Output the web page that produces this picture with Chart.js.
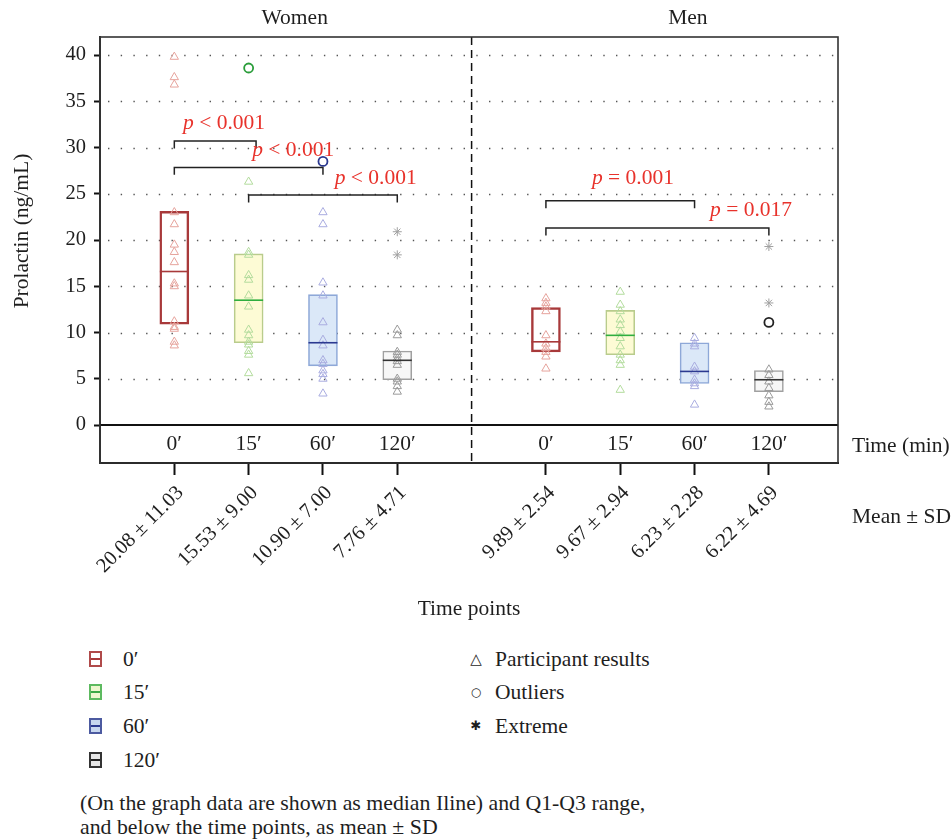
<!DOCTYPE html>
<html>
<head>
<meta charset="utf-8">
<script src="https://cdn.jsdelivr.net/npm/chart.js@4.4.0/dist/chart.umd.min.js"></script>
<style>
body { margin: 0; background: #fff; font-family: "Liberation Serif", serif; color: #1e1e1e; }
#wrap { position: relative; width: 952px; height: 839px; }
#chart { position: absolute; left: 0; top: 0; }
.item { position: absolute; font-size: 21.5px; line-height: 24px; white-space: nowrap; }
.swatch { position: absolute; width: 9px; height: 12px; border: 2px solid; }
.swatch::after { content: ""; position: absolute; left: 0; right: 0; top: 5px; height: 2px; background: currentColor; }
.sym { position: absolute; font-family: "DejaVu Sans", sans-serif; line-height: 24px; text-align: center; width: 16px; }
.note { position: absolute; left: 80px; font-size: 21.8px; line-height: 24px; white-space: nowrap; }
</style>
</head>
<body>
<div id="wrap">
  <canvas id="chart" width="952" height="622"></canvas>

  <div class="swatch" style="left:89px; top:651px; color:#a8393a; border-color:#b04a4a; background:#fff;"></div>
  <div class="item" style="left:123px; top:647px;">0′</div>
  <div class="swatch" style="left:89px; top:684px; color:#3aa845; border-color:#5dba60; background:#eef7cf;"></div>
  <div class="item" style="left:123px; top:680px;">15′</div>
  <div class="swatch" style="left:89px; top:718px; color:#2b3990; border-color:#4c5aa0; background:#c7d7ef;"></div>
  <div class="item" style="left:123px; top:714px;">60′</div>
  <div class="swatch" style="left:89px; top:752px; color:#222; border-color:#333; background:#e6e6e6;"></div>
  <div class="item" style="left:123px; top:748px;">120′</div>

  <div class="sym" style="left:468px; top:647px; font-size:15px;">△</div>
  <div class="item" style="left:495px; top:647px;">Participant results</div>
  <div class="sym" style="left:468px; top:680px; font-size:12px;">○</div>
  <div class="item" style="left:495px; top:680px;">Outliers</div>
  <div class="sym" style="left:468px; top:714px; font-size:13px;">✱</div>
  <div class="item" style="left:495px; top:714px;">Extreme</div>

  <div class="note" style="top:791px;">(On the graph data are shown as median Iline) and Q1-Q3 range,</div>
  <div class="note" style="top:815px;">and below the time points, as mean ± SD</div>
</div>

<script>
// Groups and time points
const groupNames = ['Women', 'Men'];
const groupCentres = [2.62, 7.91];
const timeLabels = ['0′', '15′', '60′', '120′', '0′', '15′', '60′', '120′'];
const xPositions = [1, 2, 3, 4, 6, 7, 8, 9];
const meanSd = ['20.08 ± 11.03', '15.53 ± 9.00', '10.90 ± 7.00', '7.76 ± 4.71',
                '9.89 ± 2.54', '9.67 ± 2.94', '6.23 ± 2.28', '6.22 ± 4.69'];

// Box statistics (ng/mL)
const q1 = [10.9, 8.9, 6.4, 4.9, 7.9, 7.6, 4.5, 3.6];
const q3 = [23.1, 18.5, 14.1, 8.0, 12.7, 12.4, 8.9, 5.9];
const medians = [16.6, 13.5, 8.9, 7.0, 9.0, 9.7, 5.8, 4.9];

// Individual results
const participants = [
    [39.8, 37.6, 36.8, 23.0, 21.7, 19.5, 18.7, 17.6, 15.3, 15.0, 11.2, 10.6, 10.4, 9.0, 8.6],
    [26.3, 18.7, 18.4, 16.2, 15.7, 14.0, 12.8, 10.3, 9.7, 9.0, 8.7, 8.0, 7.6, 5.6],
    [23.0, 21.7, 15.4, 14.0, 11.1, 9.2, 8.6, 7.0, 6.6, 5.9, 5.5, 5.0, 3.4],
    [10.3, 9.7, 7.9, 7.6, 7.2, 6.9, 6.5, 5.0, 4.7, 4.2, 3.6],
    [13.7, 13.2, 12.8, 12.3, 9.7, 8.8, 8.3, 7.9, 7.4, 6.1],
    [14.4, 13.0, 12.3, 11.4, 10.8, 10.1, 9.4, 8.5, 7.6, 7.0, 6.5, 3.8],
    [9.4, 8.8, 8.5, 6.3, 5.8, 4.9, 4.5, 4.2, 2.2],
    [6.0, 5.4, 4.7, 4.0, 3.2, 2.5, 2.0]
];
const outliers = [[], [38.6], [28.5], [], [], [], [], [11.1]];
const extremes = [[], [], [], [20.9, 18.4], [], [], [], [19.3, 13.2]];

// Significance brackets
const bracketFrom = [1, 1, 2, 6, 6];
const bracketTo = [2.1, 3, 4, 8, 9];
const bracketLevel = [30.7, 27.85, 24.86, 24.25, 21.3];
const pLabels = ['< 0.001', '< 0.001', '< 0.001', '= 0.001', '= 0.017'];
const pLabelX = [1.67, 2.6, 3.71, 7.17, 8.76];
const pLabelY = [32.6, 29.7, 26.7, 26.7, 23.2];

const yTicks = [0, 5, 10, 15, 20, 25, 30, 35, 40];

// Colours per time point
const boxBorder = ['#a8393a', '#b9cc8c', '#8ea8d8', '#a0a0a0'];
const boxFill = ['rgba(255,255,255,0)', '#fdfbd5', '#dbe8f8', '#f7f7f7'];
const medianColor = ['#a8393a', '#2fae3f', '#2b3990', '#333333'];
const pointColor = ['#e6a39c', '#b3dc9d', '#a9ace0', '#9a9a9a'];
const outlierColor = ['#a8393a', '#2a9d3a', '#2b3990', '#222222'];

const SERIF = '"Liberation Serif", serif';
const TEXT = '21.5px ' + SERIF;
const colorAt = (arr, i) => arr[i % 4];

const datasets = [];

datasets.push({
    type: 'scatter',
    order: 0,
    data: xPositions.map((x, i) => ({ x: x, y: medians[i] })),
    pointStyle: 'line',
    pointRadius: 14.5,
    borderWidth: 1.6,
    borderColor: xPositions.map((x, i) => colorAt(medianColor, i))
});

bracketFrom.forEach((from, i) => {
    const top = bracketLevel[i];
    datasets.push({
        type: 'scatter',
        order: 1,
        showLine: true,
        data: [{ x: from, y: top - 0.8 }, { x: from, y: top }, { x: bracketTo[i], y: top }, { x: bracketTo[i], y: top - 0.8 }],
        borderColor: '#222',
        borderWidth: 1.5,
        pointRadius: 0
    });
});

xPositions.forEach((x, i) => {
    datasets.push({
        type: 'scatter',
        order: 2,
        data: outliers[i].map(v => ({ x: x, y: v })),
        pointStyle: 'circle',
        pointRadius: 4.5,
        borderWidth: 1.8,
        borderColor: colorAt(outlierColor, i),
        backgroundColor: 'rgba(0,0,0,0)'
    });
    datasets.push({
        type: 'scatter',
        order: 3,
        data: extremes[i].map(v => ({ x: x, y: v })),
        pointStyle: 'star',
        pointRadius: 4.5,
        borderWidth: 1,
        borderColor: '#a0a0a0',
        backgroundColor: 'rgba(0,0,0,0)'
    });
    datasets.push({
        type: 'scatter',
        order: 3,
        data: participants[i].map(v => ({ x: x, y: v })),
        pointStyle: 'triangle',
        pointRadius: 4.8,
        borderWidth: 1,
        borderColor: colorAt(pointColor, i),
        backgroundColor: 'rgba(0,0,0,0)'
    });
});

datasets.push({
    type: 'bar',
    order: 10,
    data: xPositions.map((x, i) => ({ x: x, y: [q1[i], q3[i]] })),
    barThickness: 29,
    borderSkipped: false,
    borderWidth: xPositions.map((x, i) => i % 4 === 0 ? 1.8 : 1.6),
    borderColor: xPositions.map((x, i) => colorAt(boxBorder, i)),
    backgroundColor: xPositions.map((x, i) => colorAt(boxFill, i))
});

function drawPLabel(ctx, text, cx, cy) {
    ctx.font = 'italic ' + TEXT;
    const pw = ctx.measureText('p').width;
    ctx.font = TEXT;
    const rest = ' ' + text;
    const rw = ctx.measureText(rest).width;
    const start = cx - (pw + rw) / 2;
    ctx.fillStyle = '#e8322b';
    ctx.textAlign = 'left';
    ctx.textBaseline = 'middle';
    ctx.font = 'italic ' + TEXT;
    ctx.fillText('p', start, cy);
    ctx.font = TEXT;
    ctx.fillText(rest, start + pw, cy);
}

const overlay = {
    id: 'overlay',
    beforeDatasetsDraw(chart) {
        const { ctx, chartArea: a, scales: { x, y } } = chart;
        ctx.save();
        // dotted grid lines
        ctx.strokeStyle = '#555';
        ctx.lineWidth = 1.4;
        ctx.setLineDash([1.4, 11.3]);
        yTicks.forEach(v => {
            if (v === 0) return;
            const py = Math.round(y.getPixelForValue(v)) + 0.5;
            ctx.beginPath();
            ctx.moveTo(a.left + 8, py);
            ctx.lineTo(a.right, py);
            ctx.stroke();
        });
        // zero line
        ctx.setLineDash([]);
        ctx.strokeStyle = '#111';
        ctx.lineWidth = 2;
        const y0 = y.getPixelForValue(0);
        ctx.beginPath();
        ctx.moveTo(a.left, y0);
        ctx.lineTo(a.right, y0);
        ctx.stroke();
        // divider between women and men
        const xd = x.getPixelForValue(5);
        ctx.lineWidth = 1.5;
        ctx.setLineDash([8, 5]);
        ctx.beginPath();
        ctx.moveTo(xd, a.top);
        ctx.lineTo(xd, a.bottom);
        ctx.stroke();
        ctx.restore();
    },
    afterDraw(chart) {
        const { ctx, chartArea: a, scales: { x, y } } = chart;
        ctx.save();
        // frame
        ctx.strokeStyle = '#333';
        ctx.lineWidth = 1.6;
        ctx.strokeRect(a.left, a.top, a.right - a.left, a.bottom - a.top);

        ctx.fillStyle = '#1e1e1e';
        ctx.font = TEXT;
        ctx.textBaseline = 'middle';
        ctx.textAlign = 'center';
        groupNames.forEach((g, i) => ctx.fillText(g, x.getPixelForValue(groupCentres[i]), 18));
        timeLabels.forEach((t, i) => ctx.fillText(t, x.getPixelForValue(xPositions[i]), y.getPixelForValue(-2.05)));

        ctx.textAlign = 'left';
        ctx.fillText('Time (min)', a.right + 14, y.getPixelForValue(-2.3));
        ctx.fillText('Mean ± SD', a.right + 14, 517);

        // y title
        ctx.save();
        ctx.translate(22, (y.getPixelForValue(0) + a.top) / 2);
        ctx.rotate(-Math.PI / 2);
        ctx.textAlign = 'center';
        ctx.fillText('Prolactin (ng/mL)', 0, 0);
        ctx.restore();

        pLabels.forEach((t, i) => drawPLabel(ctx, t, x.getPixelForValue(pLabelX[i]), y.getPixelForValue(pLabelY[i])));
        ctx.restore();
    }
};

new Chart(document.getElementById('chart'), {
    type: 'bar',
    data: { datasets: datasets },
    options: {
        responsive: false,
        animation: false,
        events: [],
        layout: { padding: { top: 37, right: 114, left: 0, bottom: 0 } },
        plugins: {
            legend: { display: false },
            tooltip: { enabled: false }
        },
        scales: {
            x: {
                type: 'linear',
                min: 0,
                max: 9.93,
                offset: false,
                afterFit: scale => { scale.height = 159; },
                afterBuildTicks: scale => { scale.ticks = xPositions.map(v => ({ value: v })); },
                grid: { offset: false, drawOnChartArea: false, drawTicks: true, tickLength: 12, tickColor: '#111', tickWidth: 2 },
                border: { display: true, color: '#111', width: 2 },
                ticks: {
                    autoSkip: false,
                    minRotation: 45,
                    maxRotation: 45,
                    padding: 6,
                    labelOffset: 6,
                    color: '#1e1e1e',
                    font: { family: SERIF, size: 20.5 },
                    callback: (value, index) => meanSd[index]
                },
                title: {
                    display: true,
                    text: 'Time points',
                    color: '#1e1e1e',
                    font: { family: SERIF, size: 21.5 },
                    padding: { top: 0, bottom: 0 }
                }
            },
            y: {
                type: 'linear',
                min: -4.1,
                max: 41.95,
                afterFit: scale => { scale.width = 100; },
                afterBuildTicks: scale => { scale.ticks = yTicks.map(v => ({ value: v })); },
                grid: { drawOnChartArea: false, drawTicks: true, tickLength: 6, tickColor: '#111', tickWidth: 2 },
                border: { display: true, color: '#333', width: 2 },
                ticks: {
                    padding: 8,
                    color: '#1e1e1e',
                    font: { family: SERIF, size: 20.5 }
                }
            }
        }
    },
    plugins: [overlay]
});
</script>
</body>
</html>
